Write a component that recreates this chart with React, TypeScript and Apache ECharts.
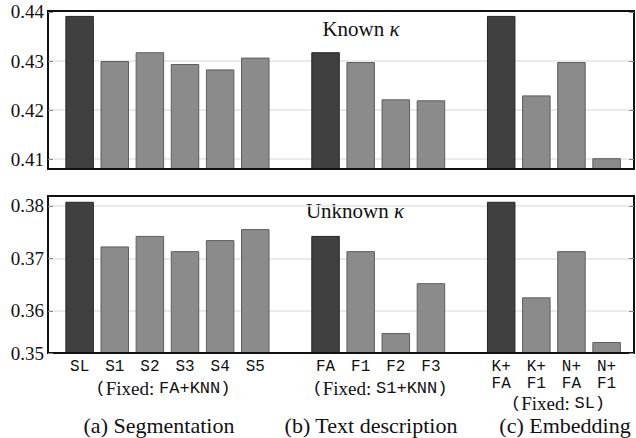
import React, { useEffect, useRef } from "react";
import * as echarts from "echarts";

// ---- data ----
const groupA = ["SL", "S1", "S2", "S3", "S4", "S5"];
const groupB = ["FA", "F1", "F2", "F3"];
const groupC = ["K+\nFA", "K+\nF1", "N+\nFA", "N+\nF1"];
const knownA = [0.4392, 0.43, 0.4318, 0.4294, 0.4283, 0.4307];
const knownB = [0.4318, 0.4298, 0.4222, 0.422];
const knownC = [0.4392, 0.423, 0.4298, 0.4102];
const unknownA = [0.3808, 0.3723, 0.3743, 0.3714, 0.3735, 0.3756];
const unknownB = [0.3743, 0.3714, 0.3558, 0.3653];
const unknownC = [0.3808, 0.3626, 0.3714, 0.3541];
const knownTicks = [0.41, 0.42, 0.43, 0.44];
const unknownTicks = [0.352, 0.36, 0.37, 0.38];
const fixedNotes = ["FA+KNN", "S1+KNN", "SL"];
const captions = ["(a) Segmentation", "(b) Text description", "(c) Embedding"];

const SERIF = "Liberation Serif";
const MONO = "Liberation Mono";
const DARK = "#404040";
const LIGHT = "#8b8b8b";

export default function App() {
  const ref = useRef<HTMLDivElement>(null);
  useEffect(() => {
    document.body.style.margin = "0";
    const chart = echarts.init(ref.current!, undefined, { renderer: "svg" });

    const groups = [groupA, groupB, groupC];
    const known = [knownA, knownB, knownC];
    const unknown = [unknownA, unknownB, unknownC];
    // slot index with one empty slot between groups
    const slots: number[] = [];
    const names: string[] = [];
    const kv: number[] = [];
    const uv: number[] = [];
    const first: boolean[] = [];
    let s = 0;
    groups.forEach((g, gi) => {
      g.forEach((n, i) => {
        slots.push(s);
        names.push(n);
        kv.push(known[gi][i]);
        uv.push(unknown[gi][i]);
        first.push(i === 0);
        s++;
      });
      s++;
    });
    const nameAt: Record<number, string> = {};
    slots.forEach((p, i) => (nameAt[p] = names[i]));

    const mkData = (vals: number[]) =>
      vals.map((v, i) => ({
        value: [slots[i], v],
        itemStyle: {
          color: first[i] ? DARK : LIGHT,
          borderColor: first[i] ? "#262626" : "#5e5e5e",
          borderWidth: 1,
        },
      }));

    const xMin = -0.9;
    const xMax = 15.78;

    const yAxisBase = (gridIndex: number, min: number, max: number, ticks: number[], right: boolean) => ({
      type: "value",
      gridIndex,
      min,
      max,
      position: right ? "right" : "left",
      z: 10,
      axisLine: { show: !right, onZero: false, lineStyle: { color: "#111", width: 2 } },
      axisTick: {
        show: true,
        inside: true,
        length: 5,
        customValues: ticks,
        lineStyle: { color: "#888", width: 1 },
      },
      axisLabel: {
        show: !right,
        customValues: ticks,
        margin: 4,
        formatter: (v: number) => v.toFixed(2),
        fontFamily: SERIF,
        fontSize: 19,
        color: "#111",
      },
      splitLine: { show: false },
    });

    const gridLines = (vals: number[]) => ({
      silent: true,
      symbol: "none",
      z: 1,
      label: { show: false },
      lineStyle: { color: "#e4e4e4", width: 1.5, type: "solid" },
      data: vals.map((v) => ({ yAxis: v })),
    });

    const xAxisBase = (gridIndex: number, labels: boolean) => ({
      type: "value",
      gridIndex,
      min: xMin,
      max: xMax,
      z: 10,
      axisLine: { show: true, onZero: false, lineStyle: { color: "#111", width: 2 } },
      axisTick: { show: false },
      axisLabel: labels
        ? {
            show: true,
            customValues: slots,
            formatter: (v: number) => nameAt[Math.round(v)] ?? "",
            fontFamily: MONO,
            fontSize: 16,
            lineHeight: 17,
            color: "#111",
            margin: 5,
          }
        : { show: false },
      splitLine: { show: false },
    });

    chart.setOption({
      animation: false,
      grid: [
        { left: 48, right: 2, top: 11, height: 158, show: true, borderColor: "#111", borderWidth: 2, z: 10 },
        { left: 48, right: 2, top: 196, height: 157, show: true, borderColor: "#111", borderWidth: 2, z: 10 },
      ],
      xAxis: [xAxisBase(0, false), xAxisBase(1, true)],
      yAxis: [
        yAxisBase(0, 0.408, 0.4402, knownTicks, false),
        yAxisBase(1, 0.352, 0.3819, unknownTicks, false),
        yAxisBase(0, 0.408, 0.4402, knownTicks, true),
        yAxisBase(1, 0.352, 0.3819, unknownTicks, true),
      ],
      series: [
        {
          type: "bar",
          xAxisIndex: 0,
          yAxisIndex: 0,
          barWidth: 28.5,
          z: 2,
          data: mkData(kv),
          markLine: gridLines([0.41, 0.42, 0.43]),
        },
        {
          type: "bar",
          xAxisIndex: 1,
          yAxisIndex: 1,
          barWidth: 28.5,
          z: 2,
          data: mkData(uv),
          markLine: gridLines([0.36, 0.37, 0.38]),
        },
      ],
      graphic: [
        {
          type: "text",
          x: 361,
          y: 29,
          style: {
            text: "Known {i|κ}",
            fontFamily: SERIF,
            fontSize: 21,
            fill: "#111",
            align: "center",
            verticalAlign: "middle",
            rich: { i: { fontStyle: "italic", fontSize: 21, fontFamily: SERIF, fill: "#111" } },
          },
        },
        {
          type: "text",
          x: 355,
          y: 211,
          style: {
            text: "Unknown {i|κ}",
            fontFamily: SERIF,
            fontSize: 21,
            fill: "#111",
            align: "center",
            verticalAlign: "middle",
            rich: { i: { fontStyle: "italic", fontSize: 21, fontFamily: SERIF, fill: "#111" } },
          },
        },
        ...fixedNotes.map((n, i) => ({
          type: "text",
          x: [163, 380, 558][i],
          y: [388, 388, 403][i],
          style: {
            text: `{m|(}{s|Fixed: }{m|${n})}`,
            align: "center",
            verticalAlign: "middle",
            rich: {
              m: { fontFamily: MONO, fontSize: 17, fill: "#111" },
              s: { fontFamily: SERIF, fontSize: 19, fill: "#111" },
            },
          },
        })),
        ...captions.map((c, i) => ({
          type: "text",
          x: [159, 371, 565][i],
          y: 425,
          style: {
            text: c,
            fontFamily: SERIF,
            fontSize: 22,
            fill: "#111",
            align: "center",
            verticalAlign: "middle",
          },
        })),
      ],
    });
    return () => chart.dispose();
  }, []);
  return <div ref={ref} style={{ width: 636, height: 438 }} />;
}
